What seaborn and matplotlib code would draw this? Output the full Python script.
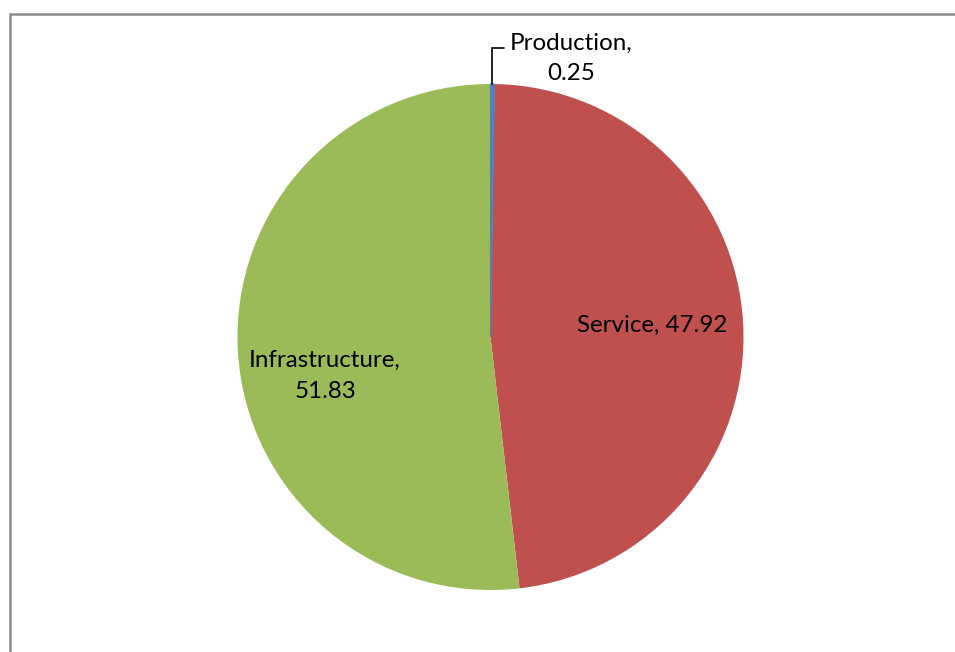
import matplotlib
matplotlib.use("Agg")
import matplotlib.pyplot as plt
from matplotlib.patches import Rectangle
import seaborn as sns

# Sector shares
categories = ["Production", "Service", "Infrastructure"]
shares = [0.25, 47.92, 51.83]
palette = ["#4F81BD", "#C0504D", "#9BBB59"]

sns.set_theme(style="white")
plt.rcParams["font.family"] = ["Lato", "DejaVu Sans"]

W, H = 955, 652
fig = plt.figure(figsize=(W / 100, H / 100), dpi=100)
ax = fig.add_axes([0, 0, 1, 1])

cx, cy, r = 490.5, H - 337, 253
wedges, _ = ax.pie(
    shares,
    colors=palette,
    startangle=90,
    counterclock=False,
    center=(cx, cy),
    radius=r,
    wedgeprops=dict(linewidth=0),
)
# keep the thin production sliver visible on top of its neighbours
wedges[0].set_edgecolor(palette[0])
wedges[0].set_linewidth(0.8)
wedges[0].set_zorder(3)

ax.set_xlim(0, W)
ax.set_ylim(0, H)
ax.set_aspect("equal")
ax.axis("off")

fs = 17.4
txt = dict(fontsize=fs, color="black", ha="center", va="center")

# Service label inside its slice
ax.text(652, H - 325, f"{categories[1]}, {shares[1]:.2f}", **txt)

# Infrastructure label, two lines
ax.text(325, H - 360, f"{categories[2]},", **txt)
ax.text(325, H - 392, f"{shares[2]:.2f}", **txt)

# Production label outside with a leader line
ax.text(571, H - 43, f"{categories[0]},", **txt)
ax.text(571, H - 73, f"{shares[0]:.2f}", **txt)
ax.plot([491.5, 491.5, 504], [H - 84, H - 48, H - 48], color="black", lw=1.2,
        solid_joinstyle="miter", zorder=4)

# Chart area border
ax.add_patch(Rectangle((9.5, -20), W + 40, H - 14 + 20, fill=False,
                       edgecolor="#8A8A8A", lw=1.8, clip_on=False))

fig.savefig("out.png", dpi=100)
